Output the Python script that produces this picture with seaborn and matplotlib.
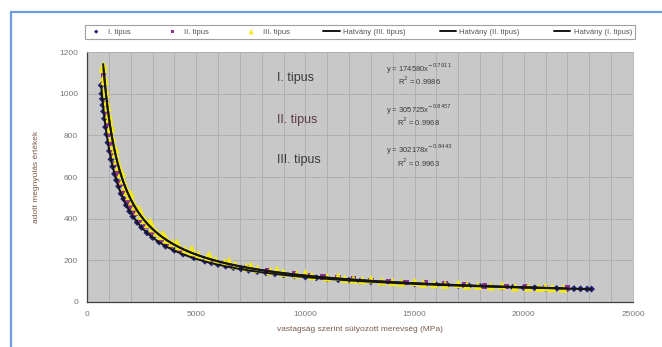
import numpy as np
import pandas as pd
import matplotlib
matplotlib.use("Agg")
import matplotlib.pyplot as plt
from matplotlib.lines import Line2D
import seaborn as sns

# Measured points: stiffness (MPa) vs. strain value
type1_x = [650, 680, 700, 730, 760, 800, 850, 900, 960, 1030, 1100, 1180, 1260, 1350, 1450,
           1560, 1680, 1800, 1950, 2100, 2300, 2500, 2750, 3000, 3300, 3600, 4000, 4400, 4900,
           5400, 5700, 6000, 6350, 6700, 7050, 7400, 7800, 8200, 8600, 9000, 9500, 10000,
           10500, 11000, 11500, 12000, 12500, 13000, 13500, 14000, 14500, 15000, 15500, 16000,
           16500, 17000, 17500, 18000, 18500, 19000, 19500, 20000, 20500, 21000, 21500, 22000,
           22300, 22600, 22900, 23100]
type1_y = [1040, 1000, 975, 945, 915, 880, 840, 805, 765, 725, 685, 650, 615, 585, 555,
           520, 495, 465, 435, 410, 382, 358, 332, 310, 288, 268, 248, 230, 212,
           196, 188, 180, 172, 165, 159, 152, 146, 140, 135, 131, 125, 120,
           116, 111, 107, 104, 100, 97, 94, 92, 89, 87, 85, 82,
           81, 79, 77, 75, 74, 72, 70, 69, 68, 66, 65, 64,
           64, 63, 62, 62]

type2_x = [760, 790, 820, 870, 920, 980, 1050, 1120, 1200, 1300, 1420, 1550, 1700, 1850, 2000,
           2200, 2450, 2700, 3000, 3400, 3800, 4300, 4900, 5600, 6400, 7300, 8300, 9500, 10100,
           10800, 11500, 12200, 13000, 13800, 14600, 15500, 16400, 17300, 18200, 19200, 20100,
           21000, 22000]
type2_y = [1090, 1050, 1000, 950, 905, 855, 805, 760, 715, 665, 615, 570, 525, 490, 462,
           428, 392, 362, 333, 300, 274, 248, 224, 202, 182, 164, 149, 134, 128,
           121, 116, 110, 104, 99, 94, 90, 86, 82, 78, 75, 72,
           69, 66]

type3_x = [740, 760, 780, 800, 830, 860, 900, 940, 980, 1020, 1080, 1100, 1150, 1220, 1300,
           1300, 1380, 1460, 1550, 1600, 1650, 1750, 1850, 1950, 2000, 2080, 2200, 2350, 2400,
           2500, 2650, 2800, 2900, 3000, 3200, 3400, 3500, 3650, 3900, 4100, 4200, 4500, 4800,
           4800, 5100, 5500, 5600, 5900, 6300, 6500, 6800, 7300, 7500, 7800, 8400, 8700, 9000,
           9600, 10000, 10300, 11000, 11500, 11800, 12200, 12600, 13000, 13500, 14000, 14400,
           15000, 15400, 15900, 16400, 17000, 17400, 17900, 18500, 19000, 19600, 20200, 20700,
           21000, 21300, 21800]
type3_y = [1120, 1135, 1080, 1060, 1020, 1000, 960, 935, 900, 880, 830, 845, 790, 750, 710,
           735, 680, 650, 615, 620, 585, 555, 530, 510, 520, 485, 460, 438, 445,
           415, 395, 375, 385, 355, 335, 318, 325, 300, 285, 285, 268, 252, 240,
           255, 228, 214, 225, 202, 190, 198, 178, 168, 175, 160, 150, 155, 142,
           134, 138, 126, 119, 122, 112, 109, 106, 110, 100, 97, 94,
           97, 89, 87, 84, 88, 80, 79, 76, 80, 72, 71, 69,
           73, 68, 66]

# Power trend-line coefficients (y = a * x^b)
fit_names = ["Hatvány (III. tipus)", "Hatvány (II. tipus)", "Hatvány (I. tipus)"]
fit_a = [302178, 305725, 174580]
fit_b = [-0.8443, -0.8457, -0.7911]
fit_r2 = [0.9963, 0.9968, 0.9986]
fit_xmin = [740, 760, 650]
fit_xmax = [21800, 22000, 23100]

series_names = ["I. tipus", "II. tipus", "III. tipus"]

sns.set_style("white")
plt.rcParams["font.family"] = ["Liberation Sans", "DejaVu Sans"]

fig = plt.figure(figsize=(6.62, 3.47), dpi=100)
ax = fig.add_axes([0.1314, 0.1297, 0.8248, 0.7204])
ax.set_facecolor("#c8c8c8")

df1 = pd.DataFrame({"x": type1_x, "y": type1_y})
df2 = pd.DataFrame({"x": type2_x, "y": type2_y})
df3 = pd.DataFrame({"x": type3_x, "y": type3_y})

sns.scatterplot(data=df1, x="x", y="y", ax=ax, marker="D", s=13, color="#22227a",
                edgecolor="none", label=series_names[0], zorder=3)
sns.scatterplot(data=df2, x="x", y="y", ax=ax, marker="s", s=16, color="#8a2f8f",
                edgecolor="none", label=series_names[1], zorder=3)
sns.scatterplot(data=df3, x="x", y="y", ax=ax, marker="^", s=40, color="#f2ea18",
                edgecolor="none", label=series_names[2], zorder=3)

# Trend lines from the fitted equations
for name, a, b, x0, x1 in zip(fit_names, fit_a, fit_b, fit_xmin, fit_xmax):
    xs = np.geomspace(x0, x1, 300)
    sns.lineplot(x=xs, y=a * xs ** b, ax=ax, color="#151515", lw=1.4, label=name,
                 zorder=4, sort=False)

ax.set_xlim(0, 25000)
ax.set_ylim(0, 1200)
ax.set_xticks(np.arange(0, 25001, 5000))
ax.set_xticks(np.arange(0, 25001, 1000), minor=True)
ax.set_yticks(np.arange(0, 1201, 200))
ax.grid(True, which="both", axis="x", color="#acacac", lw=0.6)
ax.grid(True, which="major", axis="y", color="#acacac", lw=0.6)
ax.set_axisbelow(True)
ax.tick_params(axis="both", which="major", labelsize=6, colors="#666666", length=3,
               direction="out", width=0.8)
ax.tick_params(axis="both", which="minor", length=0)
for lab in ax.get_xticklabels() + ax.get_yticklabels():
    lab.set_color("#777777")
for side in ["top", "right"]:
    ax.spines[side].set_color("#b0b0b0")
    ax.spines[side].set_linewidth(0.6)
for side in ["bottom", "left"]:
    ax.spines[side].set_color("#404040")
    ax.spines[side].set_linewidth(0.9)

ax.set_xlabel("vastagság szerint súlyozott merevség (MPa)", fontsize=6, color="#7a5c4a",
              labelpad=6)
ax.set_ylabel("adott megnyúlás értékek", fontsize=6, color="#7a5c4a", labelpad=14)

# Type labels and fitted equations
label_y = [1075, 874, 682]
label_colors = ["#3a3a3a", "#5a3a48", "#3a3a3a"]
for txt, yy, col in zip(series_names, label_y, label_colors):
    ax.text(8700, yy, txt, fontsize=9, color=col, va="center", ha="left")

eq_order = [2, 1, 0]  # I, II, III fits in the list above
eq_y = [1120, 925, 730]
for k, yy in zip(eq_order, eq_y):
    ax.text(15200, yy, f"y = {fit_a[k]}x$^{{{fit_b[k]:.4f}}}$", fontsize=5.5,
            color="#3a3a3a", ha="center", va="center")
    ax.text(15200, yy - 60, f"R$^2$ = {fit_r2[k]:.4f}", fontsize=5.5,
            color="#3a3a3a", ha="center", va="center")

ax.get_legend().remove()
handles, labels = ax.get_legend_handles_labels()
leg = fig.legend(handles, labels, loc="center", ncol=6, mode="expand",
                 bbox_to_anchor=(0.128, 0.879, 0.831, 0.0576), fontsize=5.5,
                 frameon=True, fancybox=False, edgecolor="#8a8a8a", borderaxespad=0,
                 handlelength=2.2, markerscale=0.6, handletextpad=0.4, columnspacing=0.8)
leg.get_frame().set_linewidth(0.8)
for t in leg.get_texts():
    t.set_color("#555555")

# Blue page frame
fig.add_artist(Line2D([0.0166, 1.0], [0.9654, 0.9654], transform=fig.transFigure,
                      color="#6f9be0", lw=1.6))
fig.add_artist(Line2D([0.0166, 0.0166], [0.0, 0.9654], transform=fig.transFigure,
                      color="#6f9be0", lw=1.6))

fig.savefig("out.png", dpi=100)
